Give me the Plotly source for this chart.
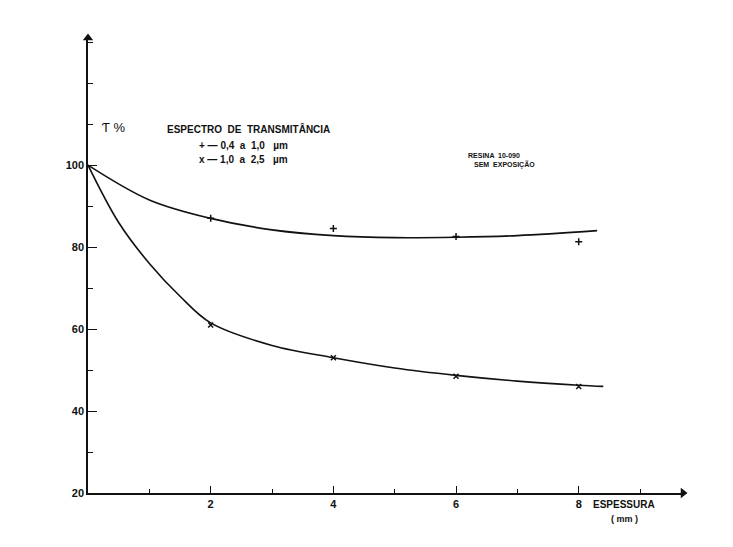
import plotly.graph_objects as go

# Curves
upper_x = [0, 1, 2, 3, 4, 5, 6, 7, 8.3]
upper_y = [100, 91.5, 87, 84.2, 82.8, 82.3, 82.4, 82.8, 84]
lower_x = [0, 0.5, 1, 1.5, 2, 3, 4, 5, 6, 7, 8, 8.4]
lower_y = [100, 86, 76, 68, 61.5, 56, 53, 50.5, 48.7, 47.3, 46.3, 46]

# Measured points
pts_up_x = [2, 4, 6, 8]
pts_up_y = [87, 84.5, 82.6, 81.3]
pts_lo_x = [2, 4, 6, 8]
pts_lo_y = [61, 53, 48.5, 46]

x_ticks = [2, 4, 6, 8]
y_ticks = [20, 40, 60, 80, 100]

X_RANGE = [0, 9.7]
Y_RANGE = [20, 131]

FONT = "Liberation Sans"
INK = "#111111"

fig = go.Figure()
fig.add_trace(go.Scatter(x=upper_x, y=upper_y, mode="lines",
                         line=dict(color=INK, width=1.6, shape="spline", smoothing=1.0),
                         showlegend=False, hoverinfo="skip"))
fig.add_trace(go.Scatter(x=lower_x, y=lower_y, mode="lines",
                         line=dict(color=INK, width=1.6, shape="spline", smoothing=1.0),
                         showlegend=False, hoverinfo="skip"))
fig.add_trace(go.Scatter(x=pts_up_x, y=pts_up_y, mode="markers",
                         marker=dict(symbol="cross-thin", size=5, line=dict(color=INK, width=1.5)),
                         showlegend=False))
fig.add_trace(go.Scatter(x=pts_lo_x, y=pts_lo_y, mode="markers",
                         marker=dict(symbol="x-thin", size=5, line=dict(color=INK, width=1.5)),
                         showlegend=False))
# axis arrowheads
fig.add_trace(go.Scatter(x=[X_RANGE[0]], y=[Y_RANGE[1]], mode="markers", cliponaxis=False,
                         marker=dict(symbol="triangle-up", size=9, color=INK), showlegend=False))
fig.add_trace(go.Scatter(x=[X_RANGE[1]], y=[Y_RANGE[0]], mode="markers", cliponaxis=False,
                         marker=dict(symbol="triangle-right", size=9, color=INK), showlegend=False))

tick_font = dict(family=FONT, size=11, color=INK)
fig.update_xaxes(range=X_RANGE, showline=True, linecolor=INK, linewidth=1.5,
                 showgrid=False, zeroline=False,
                 tickvals=x_ticks, ticktext=[f"<b>{v}</b>" for v in x_ticks],
                 ticks="inside", ticklen=7, tickwidth=1.3, tickcolor=INK,
                 minor=dict(ticks="inside", dtick=1, ticklen=4, tickcolor=INK, tickwidth=1),
                 tickfont=tick_font)
fig.update_yaxes(range=Y_RANGE, showline=True, linecolor=INK, linewidth=1.5,
                 showgrid=False, zeroline=False,
                 tickvals=y_ticks, ticktext=[f"<b>{v}</b>" for v in y_ticks],
                 ticks="inside", ticklen=9, tickwidth=1.3, tickcolor=INK,
                 minor=dict(ticks="inside", tick0=20, dtick=10, ticklen=5, tickcolor=INK, tickwidth=1),
                 tickfont=tick_font)

def txt(x, y, s, size=10, xanchor="left", bold=True):
    fig.add_annotation(x=x, y=y, xref="paper", yref="paper", text=(f"<b>{s}</b>" if bold else s),
                       showarrow=False, xanchor=xanchor, yanchor="middle",
                       font=dict(family=FONT, size=size, color=INK))

# paper coords: plot area from x=88..683 px, y=38..493 px
def px(xp):
    return (xp - 88) / 595
def py(yp):
    return (493 - yp) / 455

txt(px(100), py(128), "Ƭ %", size=13, bold=False)
txt(px(165), py(129), "ESPECTRO  DE  TRANSMITÂNCIA", size=10)
txt(px(197), py(145), "+ — 0,4  a  1,0   µm", size=10)
txt(px(197), py(159), "x — 1,0  a  2,5   µm", size=10)
txt(px(466), py(155), "RESINA  10-090", size=7)
txt(px(472), py(164), "SEM  EXPOSIÇÃO", size=7)
txt(px(624), py(505), "ESPESSURA", size=10, xanchor="center")
txt(px(624), py(519), "( mm )", size=9, xanchor="center")

fig.update_layout(width=733, height=547,
                  margin=dict(l=88, r=50, t=38, b=54),
                  paper_bgcolor="white", plot_bgcolor="white",
                  showlegend=False)
fig.write_html("out.html")
